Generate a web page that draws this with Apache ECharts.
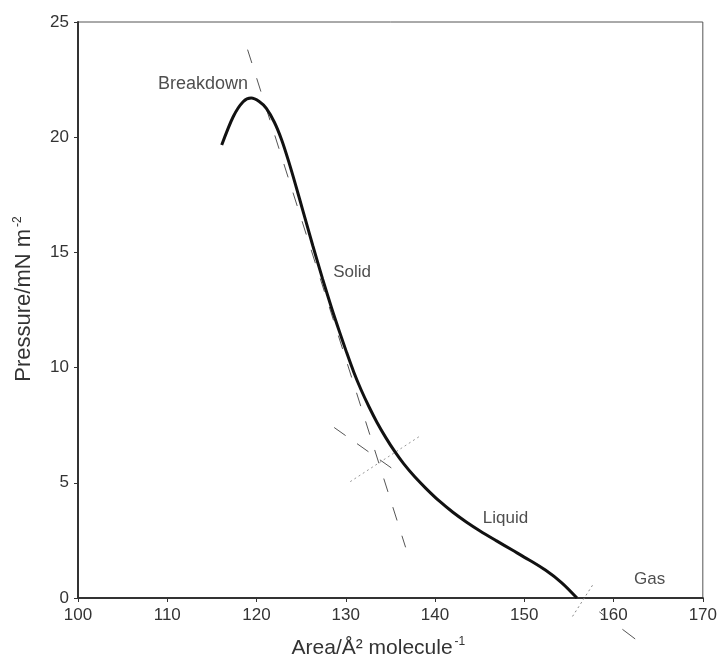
<!DOCTYPE html>
<html>
<head>
<meta charset="utf-8">
<script src="https://cdn.jsdelivr.net/npm/echarts@6/dist/echarts.min.js"></script>
<style>html,body{margin:0;padding:0;background:#fff}#c{width:720px;height:664px}</style>
</head>
<body>
<div id="c"></div>
<script>
// Isotherm curve (Area, Pressure)
var areaValues = [116.1,117.4,118.5,119.4,120.3,121.1,122.0,122.8,123.6,124.4,125.2,126.3,127.4,128.4,129.3,130.1,130.9,131.7,132.6,133.5,134.5,135.5,136.5,137.7,139.0,140.5,142.0,143.5,145.0,146.8,148.7,150.5,152.4,154.2,155.9];
var pressureValues = [19.66,20.9,21.54,21.7,21.55,21.25,20.65,19.9,18.95,17.9,16.8,15.3,13.85,12.6,11.55,10.65,9.8,9.05,8.3,7.62,6.95,6.35,5.82,5.27,4.75,4.2,3.72,3.3,2.92,2.5,2.07,1.66,1.2,0.66,0.0];
// Extrapolation lines
var solidLine = [[119.0,23.8],[136.7,2.2]];
var liquidLine = [[128.7,7.4],[136.0,5.4]];
var crossLine = [[130.5,5.05],[138.2,7.0]];
var gasCross = [[155.4,-0.8],[157.8,0.65]];
var gasLine = [[158.4,-0.6],[162.5,-1.8]];
// Region labels
var regionNames = ['Breakdown','Solid','Liquid','Gas'];
var regionPos = [[114.0,22.3],[130.7,14.15],[147.9,3.45],[164.05,0.8]];
// Axes
var xTicks = [100,110,120,130,140,150,160,170];
var yTicks = [0,5,10,15,20,25];

var curve = areaValues.map(function(a,i){return [a, pressureValues[i]];});
var labelSizes = [18,17,17,17];
var labels = regionNames.map(function(n,i){return {name:n, value:regionPos[i], label:{fontSize:labelSizes[i]}};});

var font = 'Liberation Sans, Arial, sans-serif';
var chart = echarts.init(document.getElementById('c'));
function lineSeries(d, type, color, width){
  return {type:'line', data:d, symbol:'none', clip:false, silent:true,
    lineStyle:{color:color, width:width, type:type}, z:2};
}
var supStyle = {fontSize:12,color:'#333',fontFamily:font,padding:[0,0,12,2]};
chart.setOption({
  animation:false,
  backgroundColor:'#fff',
  grid:{left:78,right:16,top:22,bottom:66,show:true,borderColor:'#555',borderWidth:1,backgroundColor:'transparent'},
  xAxis:{type:'value',min:xTicks[0],max:xTicks[xTicks.length-1],interval:10,
    name:'Area/Å² molecule{sup|-1}',nameLocation:'middle',nameGap:38,
    nameTextStyle:{fontFamily:font,fontSize:21,color:'#333',padding:[0,24,0,0],rich:{sup:supStyle}},
    axisLine:{lineStyle:{color:'#333',width:2}},
    axisTick:{show:true,inside:false,length:4,lineStyle:{color:'#333'}},
    axisLabel:{fontFamily:font,fontSize:17,color:'#333',margin:9},
    splitLine:{show:false}},
  yAxis:{type:'value',min:yTicks[0],max:yTicks[yTicks.length-1],interval:5,
    name:'Pressure/mN m{sup|-2}',nameLocation:'middle',nameGap:42,
    nameTextStyle:{fontFamily:font,fontSize:22,color:'#333',padding:[0,0,0,22],rich:{sup:supStyle}},
    axisLine:{lineStyle:{color:'#333',width:2}},
    axisTick:{show:true,inside:false,length:4,lineStyle:{color:'#333'}},
    axisLabel:{fontFamily:font,fontSize:17,color:'#333',margin:9},
    splitLine:{show:false}},
  series:[
    lineSeries(solidLine,[14,16],'#555',1),
    lineSeries(liquidLine,[14,14],'#555',1),
    lineSeries(crossLine,[2,3],'#999',1),
    lineSeries(gasCross,[2,3],'#888',1),
    lineSeries(gasLine,[6,23,16,60],'#555',1),
    {type:'line',data:curve,symbol:'none',smooth:0.3,clip:false,z:5,
      lineStyle:{color:'#111',width:3}},
    {type:'scatter',data:labels,symbolSize:0,silent:true,z:6,
      label:{show:true,position:'inside',formatter:'{b}',fontFamily:font,fontSize:17,color:'#222'}}
  ]
});
</script>
</body>
</html>
